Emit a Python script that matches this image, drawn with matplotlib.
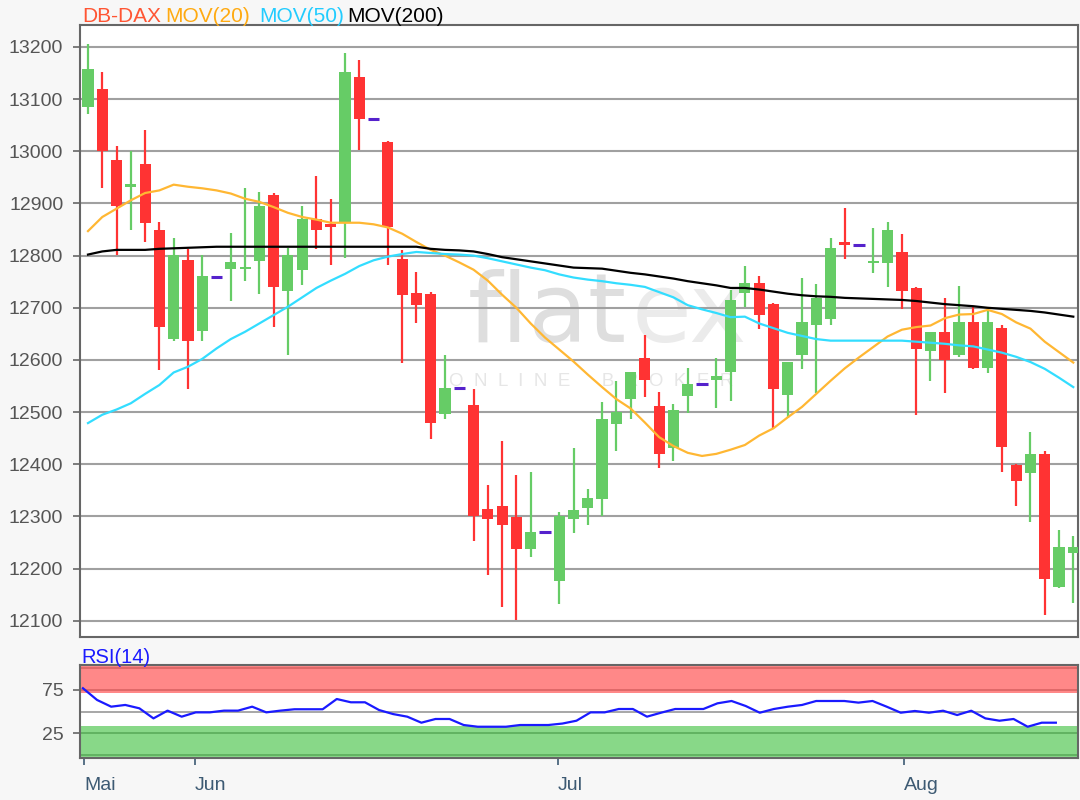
# DB-DAX candlestick chart with moving averages and RSI panel
import matplotlib
matplotlib.use('Agg')
import matplotlib.pyplot as plt
import numpy as np

# Kursdaten
opens = [13084, 13120, 12983, 12932, 12975, 12849, 12641, 12791, 12655, 12759,
         12775, 12775, 12790, 12917, 12732, 12773, 12870, 12860, 12865, 13143,
         13062, 13017, 12794, 12729, 12727, 12496, 12546, 12513, 12314, 12321,
         12299, 12238, 12270, 12176, 12296, 12316, 12334, 12477, 12526, 12604,
         12512, 12431, 12530, 12554, 12561, 12577, 12729, 12748, 12707, 12532,
         12609, 12667, 12678, 12827, 12821, 12785, 12785, 12807, 12738, 12617,
         12653, 12610, 12672, 12585, 12661, 12398, 12383, 12419, 12165, 12230]
highs = [13205, 13152, 13010, 13001, 13040, 12865, 12833, 12812, 12801, 12759,
         12844, 12929, 12921, 12920, 12815, 12895, 12952, 12909, 13189, 13174,
         13062, 13020, 12810, 12768, 12730, 12609, 12546, 12544, 12360, 12445,
         12379, 12386, 12270, 12309, 12432, 12352, 12520, 12560, 12577, 12647,
         12538, 12516, 12585, 12554, 12604, 12734, 12780, 12760, 12710, 12597,
         12757, 12745, 12833, 12891, 12821, 12853, 12865, 12842, 12740, 12653,
         12718, 12741, 12702, 12696, 12667, 12400, 12461, 12426, 12274, 12263]
lows = [13072, 12930, 12801, 12850, 12827, 12580, 12636, 12545, 12636, 12759,
        12713, 12751, 12727, 12663, 12610, 12743, 12812, 12782, 12796, 13002,
        13062, 12782, 12595, 12671, 12449, 12487, 12546, 12253, 12187, 12127,
        12102, 12223, 12270, 12132, 12269, 12284, 12301, 12425, 12487, 12529,
        12392, 12406, 12499, 12554, 12507, 12521, 12701, 12659, 12469, 12488,
        12582, 12536, 12667, 12793, 12821, 12766, 12740, 12697, 12495, 12560,
        12536, 12605, 12583, 12575, 12386, 12321, 12290, 12112, 12162, 12134]
closes = [13158, 13000, 12896, 12937, 12862, 12663, 12801, 12636, 12761, 12759,
          12787, 12779, 12895, 12740, 12801, 12871, 12850, 12854, 13151, 13061,
          13062, 12854, 12724, 12705, 12480, 12547, 12546, 12300, 12296, 12284,
          12238, 12271, 12270, 12300, 12312, 12336, 12486, 12500, 12577, 12561,
          12419, 12505, 12554, 12554, 12569, 12715, 12748, 12686, 12544, 12597,
          12673, 12718, 12814, 12820, 12821, 12789, 12849, 12732, 12621, 12653,
          12600, 12672, 12585, 12672, 12434, 12368, 12419, 12180, 12242, 12242]

# Gleitende Durchschnitte
mov20 = [12847, 12874, 12890, 12906, 12920, 12925, 12936, 12932, 12929, 12925,
         12919, 12909, 12903, 12893, 12882, 12874, 12869, 12863, 12863, 12863,
         12860, 12854, 12842, 12826, 12811, 12800, 12787, 12773, 12752, 12725,
         12700, 12670, 12643, 12620, 12597, 12572, 12548, 12525, 12507, 12480,
         12452, 12435, 12422, 12416, 12420, 12428, 12437, 12455, 12469, 12490,
         12510, 12535, 12560, 12584, 12605, 12625, 12645, 12658, 12663, 12666,
         12680, 12687, 12688, 12696, 12688, 12672, 12660, 12635, 12615, 12595]
mov50 = [12479, 12495, 12505, 12517, 12535, 12552, 12576, 12587, 12602, 12622,
         12640, 12654, 12670, 12686, 12702, 12720, 12738, 12752, 12765, 12780,
         12791, 12798, 12803, 12807, 12805, 12803, 12802, 12800, 12795, 12789,
         12783, 12777, 12772, 12764, 12758, 12754, 12751, 12747, 12744, 12740,
         12730, 12720, 12705, 12697, 12690, 12682, 12683, 12670, 12661, 12652,
         12646, 12640, 12637, 12637, 12637, 12637, 12637, 12637, 12635, 12633,
         12631, 12628, 12626, 12620, 12614, 12606, 12596, 12583, 12566, 12548]
mov200 = [12802, 12808, 12811, 12811, 12811, 12813, 12814, 12815, 12816, 12817,
          12817, 12817, 12817, 12817, 12817, 12817, 12817, 12817, 12817, 12817,
          12817, 12817, 12817, 12817, 12813, 12811, 12810, 12808, 12803, 12797,
          12793, 12789, 12785, 12781, 12777, 12776, 12775, 12771, 12767, 12764,
          12760, 12756, 12751, 12747, 12743, 12738, 12738, 12735, 12731, 12727,
          12724, 12722, 12721, 12719, 12718, 12717, 12716, 12715, 12713, 12710,
          12707, 12705, 12703, 12700, 12698, 12696, 12694, 12691, 12687, 12683]

# RSI(14)
rsi = [77, 63.4, 55.6, 57.6, 53.7, 42, 51, 44, 49, 49,
       51, 51, 55.6, 49, 51, 52.6, 52.6, 52.6, 64.5, 60.7,
       60.7, 51.7, 47, 44, 37, 41.3, 41.3, 34.3, 32.3, 32.3,
       32.3, 34.3, 34.3, 34.3, 36, 39.3, 49, 49, 52.9, 52.9,
       44, 48.6, 52.9, 52.9, 52.9, 59.5, 62.2, 56.4, 48.6, 52.9,
       55.6, 57.6, 62.2, 62.2, 62.2, 60.3, 62.2, 55.6, 48.6, 50.6,
       48.6, 50.9, 45.9, 50.9, 42, 39.3, 41.3, 32.3, 37, 37]

# Monatsanfaenge (Index im RSI-Panel)
months = ['Mai', 'Jun', 'Jul', 'Aug']
month_start = [0.07, 7.94, 33.7, 58.2]

price_ticks = list(range(12100, 13300, 100))
rsi_ticks = [25, 75]

plt.rcParams['font.family'] = ['Liberation Sans', 'DejaVu Sans']

W, H = 1080.0, 800.0
fig = plt.figure(figsize=(10.8, 8), dpi=100, facecolor='#f7f7f7')
ax = fig.add_axes([80 / W, 1 - 637 / H, 998 / W, 612 / H])
rax = fig.add_axes([80 / W, 1 - 758 / H, 998 / W, 93 / H])

up = '#66cc66'
down = '#ff3333'
flat = '#5522cc'

# Kerzen zeichnen
x = np.arange(len(opens))
for i in x:
    o, h, l, c = opens[i], highs[i], lows[i], closes[i]
    if c == o:
        ax.hlines(c, i - 0.4, i + 0.4, color=flat, lw=2.2, zorder=3)
        continue
    col = up if c > o else down
    ax.vlines(i, l, h, color=col, lw=1.6, zorder=3)
    ax.bar(i, abs(c - o), bottom=min(o, c), width=0.78, color=col, zorder=3)

ax.plot(x, mov20, color='#ffb733', lw=1.6, zorder=4)
ax.plot(x, mov50, color='#33ddff', lw=1.6, zorder=4)
ax.plot(x, mov200, color='black', lw=1.6, zorder=4)

# Wasserzeichen
ax.text(0.548, 0.482, 'flat', transform=ax.transAxes, ha='right', va='baseline',
        fontsize=70, color='#dedede', family='DejaVu Sans', zorder=0)
ax.text(0.553, 0.482, 'ex', transform=ax.transAxes, ha='left', va='baseline',
        fontsize=70, color='#ebebeb', family='DejaVu Sans', zorder=0)
ax.text(0.512, 0.41, 'O  N  L  I  N  E      B  R  O  K  E  R', transform=ax.transAxes,
        ha='center', va='baseline', fontsize=13.5, color='#e6e6e6', zorder=0)

ax.set_xlim(-0.56, 69.33)
ax.set_ylim(12069, 13242)
ax.set_yticks(price_ticks)
ax.set_xticks([])
ax.grid(axis='y', color='#a0a0a0', lw=1.5, zorder=1)
ax.set_axisbelow(True)
ax.tick_params(axis='y', length=5, width=1.2, color='#666666', pad=7,
               labelsize=14, labelcolor='#555555')
for s in ax.spines.values():
    s.set_color('#666666')
    s.set_linewidth(1.5)

# RSI Panel
rax.axhspan(72, 104, color='#ff8888', lw=0, zorder=0)
rax.axhspan(-4, 33, color='#88d888', lw=0, zorder=0)
for lev in [100, 75]:
    rax.axhline(lev, color='#dd6666', lw=1.3, zorder=1)
for lev in [25, 0]:
    rax.axhline(lev, color='#5fb05f', lw=1.3, zorder=1)
rax.axhline(50, color='#a0a0a0', lw=1.3, zorder=1)
rax.plot(np.arange(len(rsi)), rsi, color='#1a1aff', lw=1.6, zorder=3)
rax.set_xlim(-0.21, 70.57)
rax.set_ylim(-4, 104)
rax.set_yticks(rsi_ticks)
rax.set_xticks(month_start)
rax.set_xticklabels(months)
for lbl in rax.get_xticklabels():
    lbl.set_horizontalalignment('left')
rax.tick_params(axis='y', length=5, width=1.2, color='#666666', pad=7,
                labelsize=14, labelcolor='#555555')
rax.tick_params(axis='x', length=5, width=1.2, color='#3d5a73', pad=9,
                labelsize=14, labelcolor='#3d5a73')
for s in rax.spines.values():
    s.set_color('#666666')
    s.set_linewidth(1.5)

# Beschriftungen oben
ty = 1 - 22 / H
fig.text(82 / W, ty, 'DB-DAX', color='#ff5533', fontsize=15, va='baseline')
fig.text(165 / W, ty, 'MOV(20)', color='#ffaa11', fontsize=15, va='baseline')
fig.text(259 / W, ty, 'MOV(50)', color='#22ccff', fontsize=15, va='baseline')
fig.text(347 / W, ty, 'MOV(200)', color='black', fontsize=15, va='baseline')
fig.text(81 / W, 1 - 663 / H, 'RSI(14)', color='#1a1aff', fontsize=14.5, va='baseline')

plt.savefig('out.png', dpi=100, facecolor=fig.get_facecolor())
